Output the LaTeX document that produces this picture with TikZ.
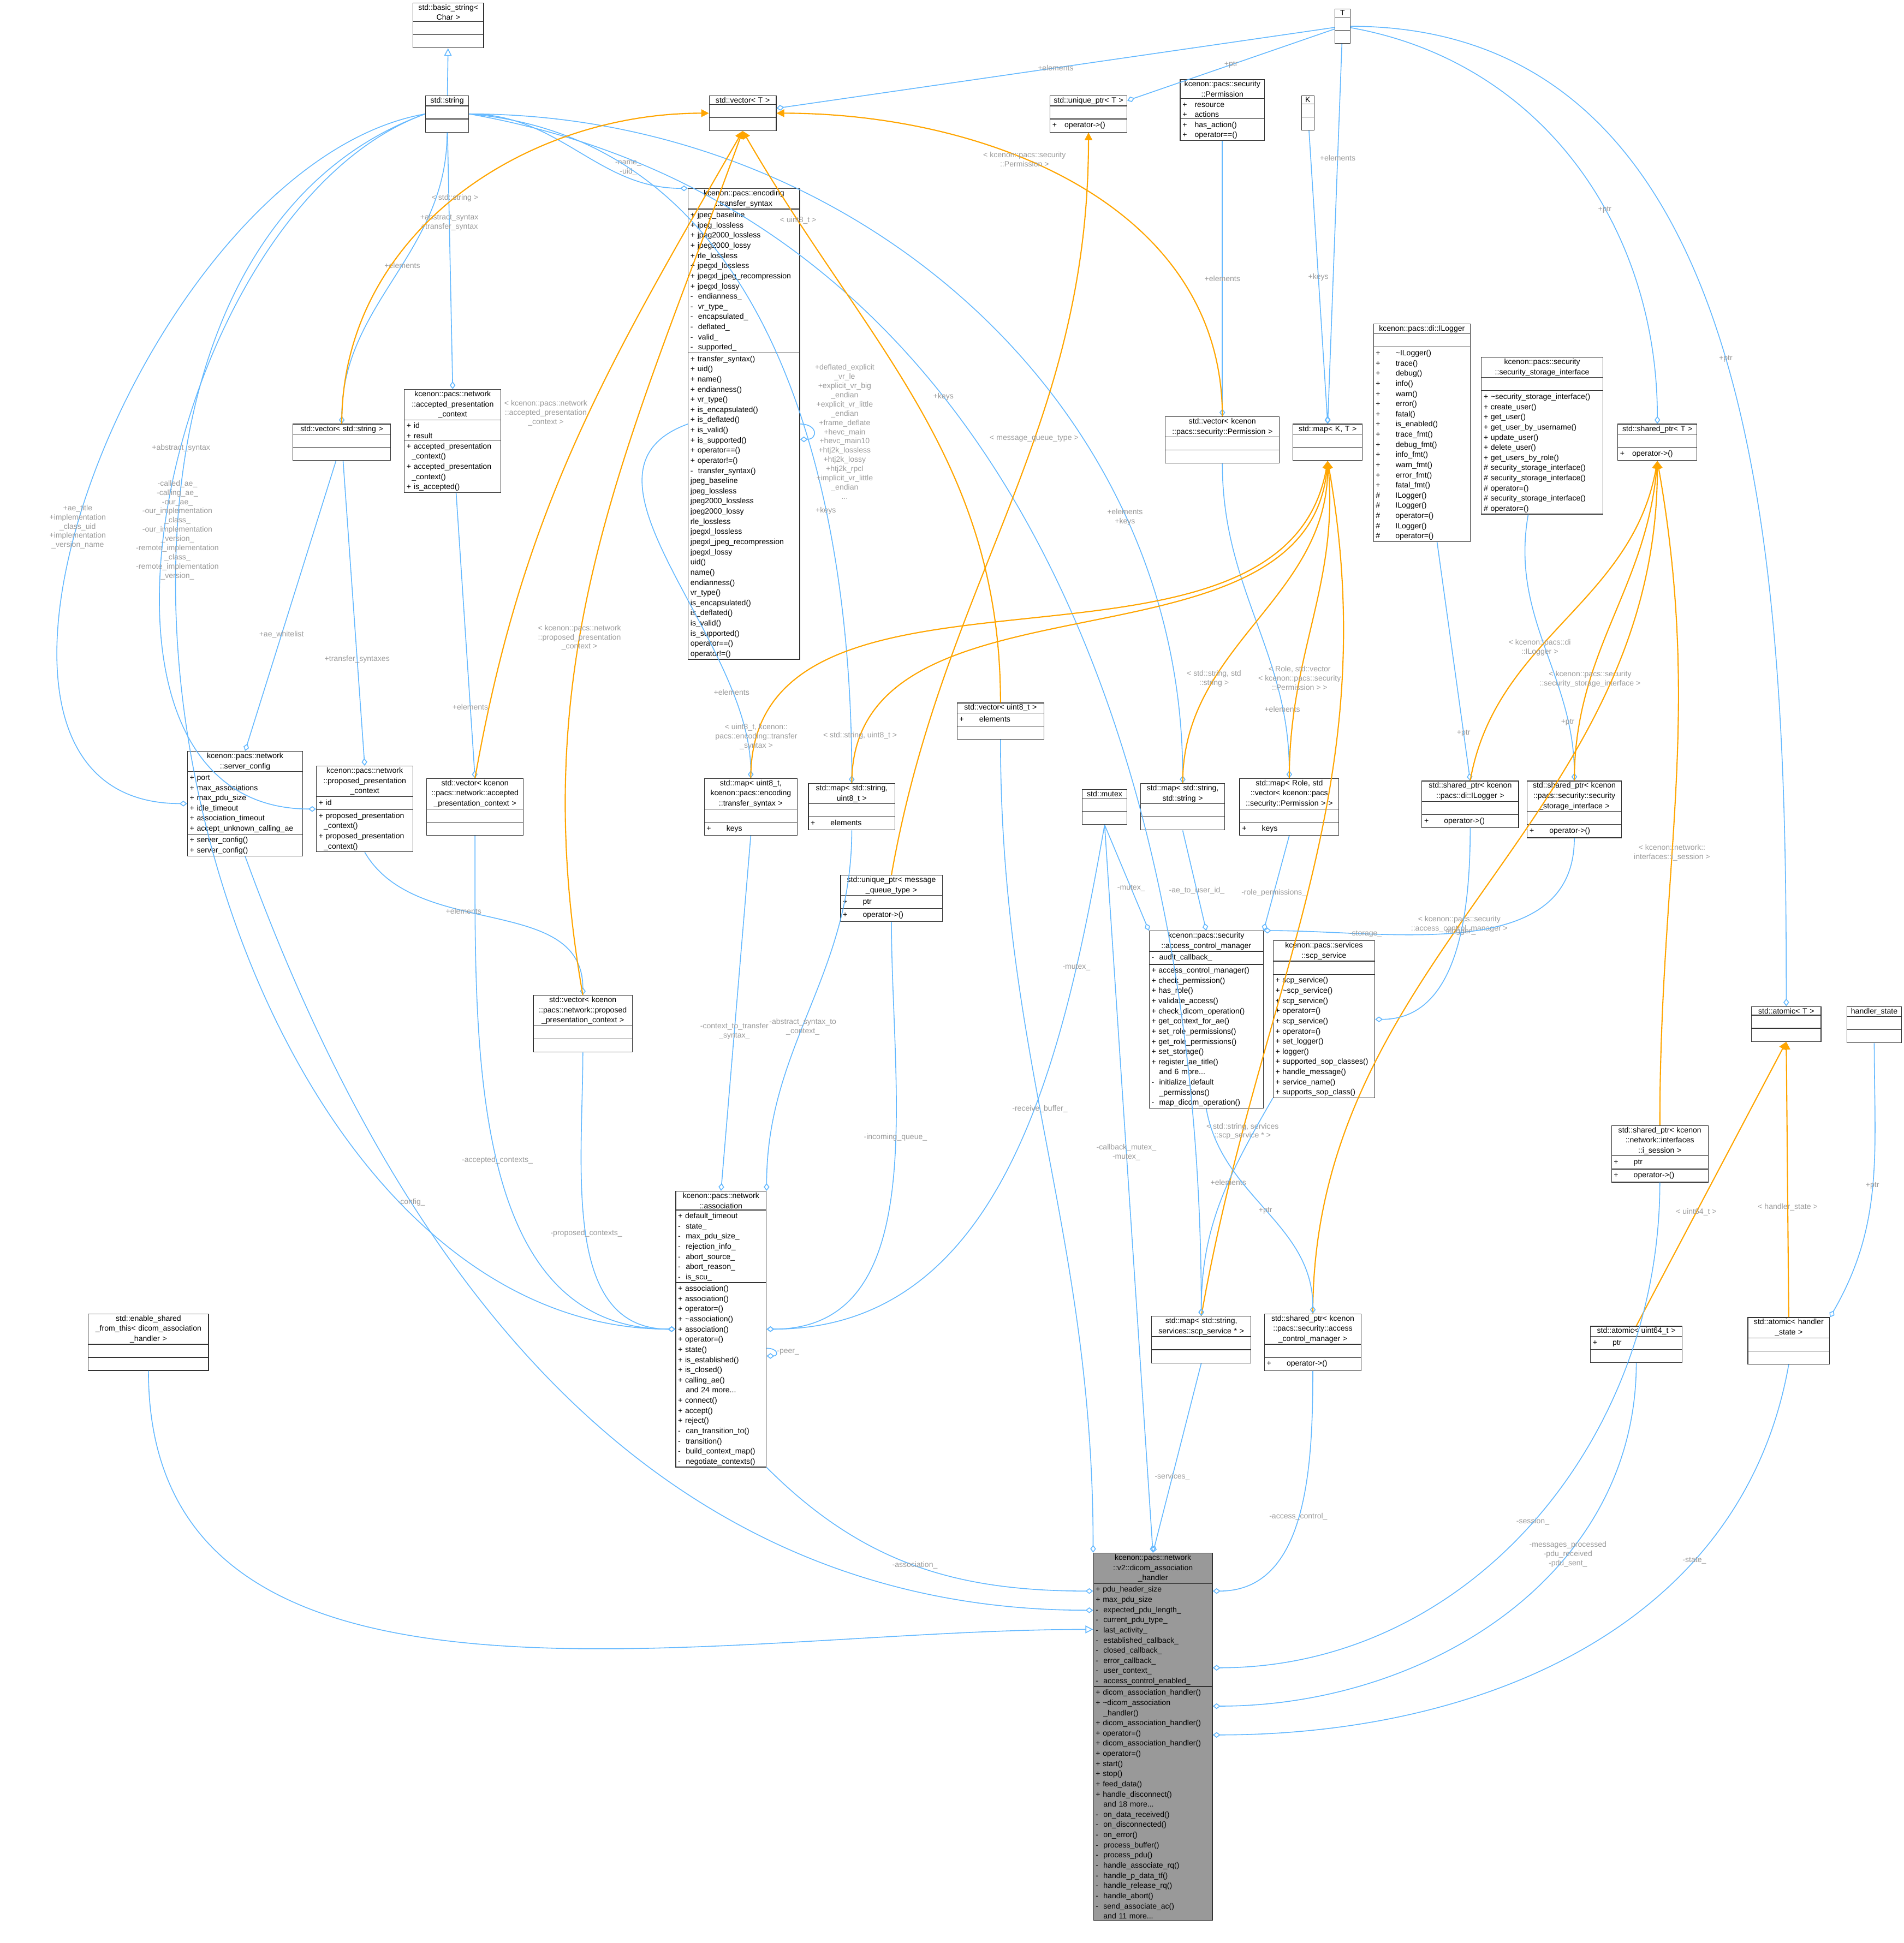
\documentclass[tikz,border=0pt]{standalone}
\usepackage{fontspec}
\setmainfont{Liberation Sans}
\usetikzlibrary{arrows.meta, positioning, shapes.multipart}
\definecolor{edgeblue}{HTML}{63B8FF}
\definecolor{edgeorange}{HTML}{FFA500}
\definecolor{lblgray}{HTML}{9A9A9A}

\tikzset{
  cls/.style={rectangle split, rectangle split parts=3, draw=black!80, fill=white,
    line width=0.35pt, inner xsep=1.2pt, inner ysep=0.6pt, anchor=north west,
    font=\fontsize{4.0}{5.3}\selectfont},
  member/.style={draw=edgeblue, line width=0.45pt, -{Diamond[open,length=4pt,width=3pt]}},
  inherit/.style={draw=edgeblue, line width=0.45pt, -{Triangle[open,length=4pt,width=4pt]}},
  tmpl/.style={draw=edgeorange, line width=0.6pt, -{Triangle[length=4pt,width=4pt]}},
  lbl/.style={text=lblgray, font=\fontsize{4.0}{4.8}\selectfont, align=center, inner sep=0.5pt}
}
% class box: name, x, y, width, title, attributes, methods
\newcommand\cls[8][white]{%
  \pgfmathsetlengthmacro\bw{#5*0.0227cm-2.4pt}%
  \node[cls, text width=\bw, fill=#1] (#2) at (#3,#4)
    {\centering #6\par\nodepart{two}\raggedright\strut #7\par\nodepart{three}\raggedright\strut #8\par};}

\begin{document}
\begin{tikzpicture}[x=0.0227cm, y=-0.0227cm]
\useasboundingbox (0,0) rectangle (1536,1568);

% top row
\cls{basicstr}{333}{2}{57}{std::basic\_string\textless\\Char \textgreater}{}{}
\cls{string}{343}{77}{35}{std::string}{}{}
\cls{vecT}{572}{77}{54}{std::vector\textless{} T \textgreater}{}{}
\cls{T}{1077}{7}{12}{T}{}{}
\cls{uptrT}{847}{77}{62}{std::unique\_ptr\textless{} T \textgreater}{}{+\quad operator-\textgreater()}
\cls{perm}{952}{64}{68}{kcenon::pacs::security\\::Permission}{+\quad resource\\+\quad actions}{+\quad has\_action()\\+\quad operator==()}
\cls{K}{1050}{77}{10}{K}{}{}

% second level
\cls{vecstr}{236}{342}{79}{std::vector\textless{} std::string \textgreater}{}{}
\cls{accpc}{326}{314}{78}{kcenon::pacs::network\\::accepted\_presentation\\\_context}{+ id\\+ result}{+ accepted\_presentation\\\ \ \_context()\\+ accepted\_presentation\\\ \ \_context()\\+ is\_accepted()}
\cls{ts}{555}{152}{90}{kcenon::pacs::encoding\\::transfer\_syntax}{+ jpeg\_baseline\\+ jpeg\_lossless\\+ jpeg2000\_lossless\\+ jpeg2000\_lossy\\+ rle\_lossless\\+ jpegxl\_lossless\\+ jpegxl\_jpeg\_recompression\\+ jpegxl\_lossy\\-\ \ endianness\_\\-\ \ vr\_type\_\\-\ \ encapsulated\_\\-\ \ deflated\_\\-\ \ valid\_\\-\ \ supported\_}{+ transfer\_syntax()\\+ uid()\\+ name()\\+ endianness()\\+ vr\_type()\\+ is\_encapsulated()\\+ is\_deflated()\\+ is\_valid()\\+ is\_supported()\\+ operator==()\\+ operator!=()\\-\ \ transfer\_syntax()\\* jpeg\_baseline\\* jpeg\_lossless\\* jpeg2000\_lossless\\* jpeg2000\_lossy\\* rle\_lossless\\* jpegxl\_lossless\\* jpegxl\_jpeg\_recompression\\* jpegxl\_lossy\\* uid()\\* name()\\* endianness()\\* vr\_type()\\* is\_encapsulated()\\* is\_deflated()\\* is\_valid()\\* is\_supported()\\* operator==()\\* operator!=()}
\cls{vecperm}{940}{336}{92}{std::vector\textless{} kcenon\\::pacs::security::Permission \textgreater}{}{}
\cls{mapKT}{1043}{342}{56}{std::map\textless{} K, T \textgreater}{}{}
\cls{ilogger}{1108}{261}{78}{kcenon::pacs::di::ILogger}{}{+\qquad \textasciitilde ILogger()\\+\qquad trace()\\+\qquad debug()\\+\qquad info()\\+\qquad warn()\\+\qquad error()\\+\qquad fatal()\\+\qquad is\_enabled()\\+\qquad trace\_fmt()\\+\qquad debug\_fmt()\\+\qquad info\_fmt()\\+\qquad warn\_fmt()\\+\qquad error\_fmt()\\+\qquad fatal\_fmt()\\\#\qquad ILogger()\\\#\qquad ILogger()\\\#\qquad operator=()\\\#\qquad ILogger()\\\#\qquad operator=()}
\cls{ssi}{1195}{288}{98}{kcenon::pacs::security\\::security\_storage\_interface}{}{+ \textasciitilde security\_storage\_interface()\\+ create\_user()\\+ get\_user()\\+ get\_user\_by\_username()\\+ update\_user()\\+ delete\_user()\\+ get\_users\_by\_role()\\\# security\_storage\_interface()\\\# security\_storage\_interface()\\\# operator=()\\\# security\_storage\_interface()\\\# operator=()}
\cls{sptrT}{1305}{342}{64}{std::shared\_ptr\textless{} T \textgreater}{}{+\quad operator-\textgreater()}

% third level
\cls{srvcfg}{151}{606}{93}{kcenon::pacs::network\\::server\_config}{+ port\\+ max\_associations\\+ max\_pdu\_size\\+ idle\_timeout\\+ association\_timeout\\+ accept\_unknown\_calling\_ae}{+ server\_config()\\+ server\_config()}
\cls{proppc}{255}{618}{78}{kcenon::pacs::network\\::proposed\_presentation\\\_context}{+ id}{+ proposed\_presentation\\\ \ \_context()\\+ proposed\_presentation\\\ \ \_context()}
\cls{vecacc}{344}{628}{78}{std::vector\textless{} kcenon\\::pacs::network::accepted\\\_presentation\_context \textgreater}{}{}
\cls{mapts}{568}{628}{75}{std::map\textless{} uint8\_t,\\kcenon::pacs::encoding\\::transfer\_syntax \textgreater}{}{+\qquad keys}
\cls{mapstru}{652}{632}{70}{std::map\textless{} std::string,\\uint8\_t \textgreater}{}{+\qquad elements}
\cls{vecu8}{772}{567}{70}{std::vector\textless{} uint8\_t \textgreater}{+\qquad elements}{}
\cls{mutex}{873}{637}{36}{std::mutex}{}{}
\cls{mapss}{920}{632}{68}{std::map\textless{} std::string,\\std::string \textgreater}{}{}
\cls{maprole}{1000}{628}{80}{std::map\textless{} Role, std\\::vector\textless{} kcenon::pacs\\::security::Permission \textgreater{} \textgreater}{}{+\qquad keys}
\cls{sptrlog}{1147}{630}{78}{std::shared\_ptr\textless{} kcenon\\::pacs::di::ILogger \textgreater}{}{+\qquad operator-\textgreater()}
\cls{sptrssi}{1232}{630}{76}{std::shared\_ptr\textless{} kcenon\\::pacs::security::security\\\_storage\_interface \textgreater}{}{+\qquad operator-\textgreater()}
\cls{uptrmq}{678}{706}{82}{std::unique\_ptr\textless{} message\\\_queue\_type \textgreater}{+\qquad ptr}{+\qquad operator-\textgreater()}
\cls{acm}{927}{751}{92}{kcenon::pacs::security\\::access\_control\_manager}{-\ \ audit\_callback\_}{+ access\_control\_manager()\\+ check\_permission()\\+ has\_role()\\+ validate\_access()\\+ check\_dicom\_operation()\\+ get\_context\_for\_ae()\\+ set\_role\_permissions()\\+ get\_role\_permissions()\\+ set\_storage()\\+ register\_ae\_title()\\\ \ \ and 6 more...\\-\ \ initialize\_default\\\ \ \ \_permissions()\\-\ \ map\_dicom\_operation()}
\cls{scp}{1027}{759}{82}{kcenon::pacs::services\\::scp\_service}{}{+ scp\_service()\\+ \textasciitilde scp\_service()\\+ scp\_service()\\+ operator=()\\+ scp\_service()\\+ operator=()\\+ set\_logger()\\+ logger()\\+ supported\_sop\_classes()\\+ handle\_message()\\+ service\_name()\\+ supports\_sop\_class()}
\cls{vecprop}{430}{803}{80}{std::vector\textless{} kcenon\\::pacs::network::proposed\\\_presentation\_context \textgreater}{}{}
\cls{assoc}{545}{961}{73}{kcenon::pacs::network\\::association}{+ default\_timeout\\-\ \ state\_\\-\ \ max\_pdu\_size\_\\-\ \ rejection\_info\_\\-\ \ abort\_source\_\\-\ \ abort\_reason\_\\-\ \ is\_scu\_}{+ association()\\+ association()\\+ operator=()\\+ \textasciitilde association()\\+ association()\\+ operator=()\\+ state()\\+ is\_established()\\+ is\_closed()\\+ calling\_ae()\\\ \ \ and 24 more...\\+ connect()\\+ accept()\\+ reject()\\-\ \ can\_transition\_to()\\-\ \ transition()\\-\ \ build\_context\_map()\\-\ \ negotiate\_contexts()}
\cls{atomT}{1413}{812}{56}{std::atomic\textless{} T \textgreater}{}{}
\cls{hstate}{1490}{812}{44}{handler\_state}{}{}
\cls{sptrsess}{1300}{908}{78}{std::shared\_ptr\textless{} kcenon\\::network::interfaces\\::i\_session \textgreater}{+\qquad ptr}{+\qquad operator-\textgreater()}
\cls{esft}{71}{1060}{97}{std::enable\_shared\\\_from\_this\textless{} dicom\_association\\\_handler \textgreater}{}{}
\cls{mapscp}{929}{1062}{80}{std::map\textless{} std::string,\\services::scp\_service * \textgreater}{}{}
\cls{sptracm}{1020}{1060}{78}{std::shared\_ptr\textless{} kcenon\\::pacs::security::access\\\_control\_manager \textgreater}{}{+\qquad operator-\textgreater()}
\cls{atomu64}{1283}{1070}{74}{std::atomic\textless{} uint64\_t \textgreater}{+\qquad ptr}{}
\cls{atomhs}{1410}{1063}{66}{std::atomic\textless{} handler\\\_state \textgreater}{}{}

% main class
\cls[black!40]{main}{882}{1253}{96}{kcenon::pacs::network\\::v2::dicom\_association\\\_handler}{+ pdu\_header\_size\\+ max\_pdu\_size\\-\ \ expected\_pdu\_length\_\\-\ \ current\_pdu\_type\_\\-\ \ last\_activity\_\\-\ \ established\_callback\_\\-\ \ closed\_callback\_\\-\ \ error\_callback\_\\-\ \ user\_context\_\\-\ \ access\_control\_enabled\_}{+ dicom\_association\_handler()\\+ \textasciitilde dicom\_association\\\ \ \ \_handler()\\+ dicom\_association\_handler()\\+ operator=()\\+ dicom\_association\_handler()\\+ operator=()\\+ start()\\+ stop()\\+ feed\_data()\\+ handle\_disconnect()\\\ \ \ and 18 more...\\-\ \ on\_data\_received()\\-\ \ on\_disconnected()\\-\ \ on\_error()\\-\ \ process\_buffer()\\-\ \ process\_pdu()\\-\ \ handle\_associate\_rq()\\-\ \ handle\_p\_data\_tf()\\-\ \ handle\_release\_rq()\\-\ \ handle\_abort()\\-\ \ send\_associate\_ac()\\\ \ \ and 11 more...}

% inheritance
\draw[inherit] (string) -- (basicstr);
\draw[inherit] (esft.south) to[out=-90,in=180] ([yshift=-40pt]main.north west);

% members of the top row types
\draw[member] (string) to[out=-90,in=90] node[lbl,pos=0.45]{+elements} (vecstr.north);
\draw[member] (string) -- node[lbl,pos=0.35]{+abstract\_syntax\\+transfer\_syntax} (accpc.north);
\draw[member] (string.east) to[out=0,in=180] node[lbl,pos=0.75,above]{-name\_\\-uid\_} (ts.north west);
\draw[member] (string.west) to[out=190,in=180] node[lbl,pos=0.55]{+ae\_title\\+implementation\\\_class\_uid\\+implementation\\\_version\_name} (srvcfg.west);
\draw[member] (string.west) to[out=200,in=180] node[lbl,pos=0.45]{+abstract\_syntax} (proppc.west);
\draw[member] (string.east) to[out=-5,in=90] node[lbl,pos=0.7]{+keys} (mapstru.north);
\draw[member] (string.east) to[out=0,in=90] node[lbl,pos=0.75]{+elements\\+keys} (mapss.north);
\draw[member] (string.east) to[out=-10,in=90] node[lbl,pos=0.38]{+keys} (mapscp.north);
\draw[member] (string.west) to[out=200,in=180] node[lbl,pos=0.35]{-called\_ae\_\\-calling\_ae\_\\-our\_ae\_\\-our\_implementation\\\_class\_\\-our\_implementation\\\_version\_\\-remote\_implementation\\\_class\_\\-remote\_implementation\\\_version\_} (assoc.west);
\draw[member] (T) -- node[lbl]{+elements} (vecT);
\draw[member] (T) -- node[lbl]{+ptr} (uptrT);
\draw[member] (T) -- node[lbl,pos=0.3]{+elements} (mapKT.north);
\draw[member] (T) to[out=-10,in=90] node[lbl,pos=0.6]{+ptr} (sptrT.north);
\draw[member] (T.east) to[out=0,in=90] node[lbl,pos=0.5]{+ptr} (atomT.north);
\draw[member] (K) -- node[lbl]{+keys} (mapKT.north);
\draw[member] (perm) -- node[lbl]{+elements} (vecperm);
\draw[member] (vecstr) -- node[lbl,pos=0.6]{+ae\_whitelist} (srvcfg.north);
\draw[member] (vecstr) -- node[lbl,pos=0.65]{+transfer\_syntaxes} (proppc.north);
\draw[member] (accpc) -- node[lbl,pos=0.75]{+elements} (vecacc.north);
\draw[member] (ts.west) to[out=200,in=90] node[lbl,pos=0.8]{+elements} (mapts.north);
\draw[member] (ts.east) to[out=0,in=0,looseness=3] node[lbl,right,pos=0.5]{+deflated\_explicit\\\_vr\_le\\+explicit\_vr\_big\\\_endian\\+explicit\_vr\_little\\\_endian\\+frame\_deflate\\+hevc\_main\\+hevc\_main10\\+htj2k\_lossless\\+htj2k\_lossy\\+htj2k\_rpcl\\+implicit\_vr\_little\\\_endian\\...} ([yshift=-8pt]ts.east);
\draw[member] (vecperm) to[out=-90,in=90] node[lbl,pos=0.8]{+elements} (maprole.north);
\draw[member] (ilogger) -- node[lbl,pos=0.8]{+ptr} (sptrlog.north);
\draw[member] (ssi) to[out=-100,in=90] node[lbl,pos=0.8]{+ptr} (sptrssi.north);
\draw[member] (proppc.south) to[out=-60,in=90] node[lbl,pos=0.4]{+elements} (vecprop.north);

% template instances
\draw[tmpl] (vecstr.north) to[out=90,in=180] node[lbl,pos=0.5]{\textless{} std::string \textgreater} (vecT.west);
\draw[tmpl] (vecacc.north) to[out=80,in=-120] node[lbl,pos=0.55,left]{\textless{} kcenon::pacs::network\\::accepted\_presentation\\\_context \textgreater} (vecT.south);
\draw[tmpl] (vecprop.north) to[out=100,in=-110] node[lbl,pos=0.4]{\textless{} kcenon::pacs::network\\::proposed\_presentation\\\_context \textgreater} (vecT.south);
\draw[tmpl] (vecu8.north) to[out=90,in=-60] node[lbl,pos=0.85]{\textless{} uint8\_t \textgreater} (vecT.south);
\draw[tmpl] (vecperm.north) to[out=90,in=0] node[lbl,pos=0.6]{\textless{} kcenon::pacs::security\\::Permission \textgreater} (vecT.east);
\draw[tmpl] (uptrmq.north) to[out=80,in=-90] node[lbl,pos=0.6]{\textless{} message\_queue\_type \textgreater} (uptrT.south);
\draw[tmpl] (mapts.north) to[out=90,in=-100] node[lbl,pos=0.06]{\textless{} uint8\_t, kcenon::\\pacs::encoding::transfer\\\_syntax \textgreater} (mapKT.south);
\draw[tmpl] (mapstru.north) to[out=90,in=-95] node[lbl,pos=0.08]{\textless{} std::string, uint8\_t \textgreater} (mapKT.south);
\draw[tmpl] (mapss.north) to[out=90,in=-90] node[lbl,pos=0.3]{\textless{} std::string, std\\::string \textgreater} (mapKT.south);
\draw[tmpl] (maprole.north) to[out=90,in=-85] node[lbl,pos=0.3]{\textless{} Role, std::vector\\\textless{} kcenon::pacs::security\\::Permission \textgreater{} \textgreater} (mapKT.south);
\draw[tmpl] (mapscp.north) to[out=80,in=-80] node[lbl,pos=0.2]{\textless{} std::string, services\\::scp\_service * \textgreater} (mapKT.south);
\draw[tmpl] (sptrlog.north) to[out=80,in=-100] node[lbl,pos=0.4]{\textless{} kcenon::pacs::di\\::ILogger \textgreater} (sptrT.south);
\draw[tmpl] (sptrssi.north) to[out=90,in=-95] node[lbl,pos=0.3]{\textless{} kcenon::pacs::security\\::security\_storage\_interface \textgreater} (sptrT.south);
\draw[tmpl] (sptrsess.north) to[out=90,in=-80] node[lbl,pos=0.4]{\textless{} kcenon::network::\\interfaces::i\_session \textgreater} (sptrT.south);
\draw[tmpl] (sptracm.north) to[out=90,in=-90] node[lbl,pos=0.45]{\textless{} kcenon::pacs::security\\::access\_control\_manager \textgreater} (sptrT.south);
\draw[tmpl] (atomu64.north) -- node[lbl,pos=0.4]{\textless{} uint64\_t \textgreater} (atomT.south);
\draw[tmpl] (atomhs.north) -- node[lbl,pos=0.4]{\textless{} handler\_state \textgreater} (atomT.south);

% members of association, access control and main
\draw[member] (srvcfg.south) to[out=-70,in=180] node[lbl,pos=0.3]{-config\_} ([yshift=-30pt]main.north west);
\draw[member] (vecacc.south) to[out=-90,in=180] node[lbl,pos=0.5]{-accepted\_contexts\_} (assoc.west);
\draw[member] (vecprop.south) to[out=-90,in=180] node[lbl,pos=0.5]{-proposed\_contexts\_} (assoc.west);
\draw[member] (mapts.south) -- node[lbl,pos=0.55]{-context\_to\_transfer\\\_syntax\_} (assoc.north);
\draw[member] (mapstru.south) to[out=-90,in=90] node[lbl,pos=0.55]{-abstract\_syntax\_to\\\_context\_} (assoc.north east);
\draw[member] (uptrmq.south) to[out=-90,in=0] node[lbl,pos=0.4]{-incoming\_queue\_} (assoc.east);
\draw[member] (mutex.south) to[out=-100,in=0] node[lbl,pos=0.2]{-mutex\_} (assoc.east);
\draw[member] ([yshift=-10pt]assoc.east) to[out=0,in=0,looseness=4] node[lbl,right]{-peer\_} ([yshift=-14pt]assoc.east);
\draw[member] (vecu8.south) to[out=-90,in=90] node[lbl,pos=0.45]{-receive\_buffer\_} (main.north west);
\draw[member] (mutex.south) -- node[lbl,pos=0.45]{-callback\_mutex\_\\-mutex\_} (main.north);
\draw[member] (mutex.south) -- node[lbl,pos=0.6]{-mutex\_} (acm.north west);
\draw[member] (mapss.south) -- node[lbl,pos=0.6]{-ae\_to\_user\_id\_} (acm.north);
\draw[member] (maprole.south) -- node[lbl,pos=0.6]{-role\_permissions\_} (acm.north east);
\draw[member] (sptrssi.south) to[out=-90,in=0] node[lbl,pos=0.75]{-storage\_} (acm.north east);
\draw[member] (sptrlog.south) to[out=-90,in=0] node[lbl,pos=0.4]{\#logger\_} (scp.east);
\draw[member] (scp.south west) to[out=-120,in=90] node[lbl,pos=0.4]{+elements} (mapscp.north);
\draw[member] (acm.south) to[out=-80,in=90] node[lbl,pos=0.5]{+ptr} (sptracm.north);
\draw[member] (assoc.south east) to[out=-45,in=180] node[lbl,pos=0.5]{-association\_} ([yshift=-20pt]main.north west);
\draw[member] (mapscp.south) -- node[lbl,pos=0.6]{-services\_} (main.north);
\draw[member] (sptracm.south) to[out=-90,in=0] node[lbl,pos=0.5]{-access\_control\_} ([yshift=-20pt]main.north east);
\draw[member] (sptrsess.south) to[out=-90,in=0] node[lbl,pos=0.5]{-session\_} ([yshift=-60pt]main.north east);
\draw[member] (atomu64.south) to[out=-90,in=0] node[lbl,pos=0.35]{-messages\_processed\\-pdu\_received\\-pdu\_sent\_} ([yshift=-80pt]main.north east);
\draw[member] (atomhs.south) to[out=-100,in=0] node[lbl,pos=0.3]{-state\_} ([yshift=-95pt]main.north east);
\draw[member] (hstate.south) to[out=-90,in=60] node[lbl,pos=0.5]{+ptr} (atomhs.north east);
\end{tikzpicture}
\end{document}
